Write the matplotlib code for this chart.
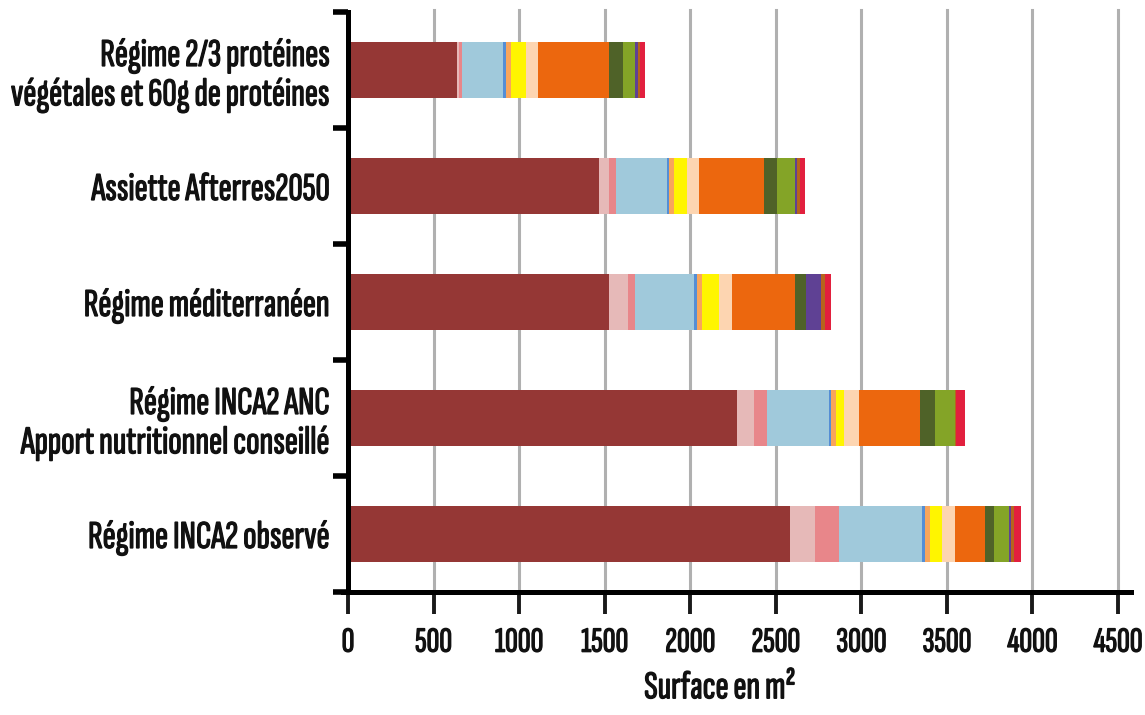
import matplotlib
matplotlib.use("Agg")
import matplotlib.pyplot as plt
import matplotlib.patheffects as pe
import numpy as np
from matplotlib.ticker import FixedLocator

plt.rcParams['font.family'] = ['Sofia Sans Extra Condensed', 'DejaVu Sans']

categories = [
    "Régime 2/3 protéines\nvégétales et 60g de protéines",
    "Assiette Afterres2050",
    "Régime méditerranéen",
    "Régime INCA2 ANC\nApport nutritionnel conseillé",
    "Régime INCA2 observé",
]

seg_dark_red    = [635, 1465, 1525, 2273, 2583]
seg_pink        = [15, 60, 114, 100, 144]
seg_salmon      = [15, 40, 39, 76, 144]
seg_light_blue  = [242, 302, 344, 364, 481]
seg_blue        = [18, 11, 17, 12, 18]
seg_light_orange = [25, 29, 29, 28, 30]
seg_yellow      = [89, 72, 98, 46, 70]
seg_peach       = [74, 72, 78, 87, 76]
seg_orange      = [412, 380, 367, 355, 174]
seg_dark_olive  = [85, 77, 68, 88, 58]
seg_olive_green = [68, 103, 0, 117, 87]
seg_purple      = [15, 12, 88, 0, 12]
seg_brown       = [13, 17, 18, 10, 17]
seg_red         = [29, 29, 40, 49, 41]

x_ticks = [0, 500, 1000, 1500, 2000, 2500, 3000, 3500, 4000, 4500]
x_label = "Surface en m²"

series = [
    (seg_dark_red, '#953735'),
    (seg_pink, '#E6B9B8'),
    (seg_salmon, '#E8868A'),
    (seg_light_blue, '#A0C9DB'),
    (seg_blue, '#558ED5'),
    (seg_light_orange, '#F9A55B'),
    (seg_yellow, '#FFF500'),
    (seg_peach, '#FDD5B1'),
    (seg_orange, '#EC670E'),
    (seg_dark_olive, '#4F6228'),
    (seg_olive_green, '#84A427'),
    (seg_purple, '#5F4194'),
    (seg_brown, '#B6651C'),
    (seg_red, '#E2203E'),
]

fig = plt.figure(figsize=(11.45, 7.15), dpi=100)
ax = fig.add_axes([348/1145, 123/715, (1131-348)/1145, (592-12)/715])

y = np.arange(len(categories))
left = np.zeros(len(categories))
for vals, col in series:
    v = np.array(vals, dtype=float)
    ax.barh(y, v, left=left, height=0.48, color=col, edgecolor='none', zorder=3)
    left += v

ax.set_ylim(len(categories) - 0.5, -0.5)
ax.set_xlim(0, 4576)

bold = [pe.withStroke(linewidth=0.9, foreground='#111111')]

ax.set_xticks(x_ticks)
ax.set_xticklabels([str(t) for t in x_ticks], fontsize=25.5, color='#111111')
for t in x_ticks[1:]:
    ax.axvline(t, color='#B0B0B0', lw=2.2, zorder=1, ymin=0, ymax=1.004, clip_on=False)

ax.set_yticks(y)
ax.set_yticklabels(categories, fontsize=28.5, linespacing=1.12, ha='right', color='#111111')
ax.yaxis.set_minor_locator(FixedLocator(np.arange(-0.5, len(categories) + 0.5, 1)))
ax.tick_params(axis='y', which='major', length=0, pad=13)
ax.tick_params(axis='y', which='minor', length=11, width=4, color='black')
ax.tick_params(axis='x', which='major', length=16, width=2.8, color='#1a1a1a', pad=9)

for lab in ax.get_xticklabels() + ax.get_yticklabels():
    lab.set_path_effects(bold)

for s in ['top', 'right']:
    ax.spines[s].set_visible(False)
ax.spines['left'].set_linewidth(3.6)
ax.spines['bottom'].set_linewidth(3.6)
ax.spines['left'].set_zorder(5)
ax.spines['bottom'].set_zorder(5)
ax.spines['bottom'].set_bounds(-30, 4576)

xl = ax.set_xlabel(x_label, fontsize=28.5, color='#111111')
xl.set_path_effects(bold)
ax.xaxis.set_label_coords(0.475, -0.135)

fig.savefig('out.png', dpi=100)
